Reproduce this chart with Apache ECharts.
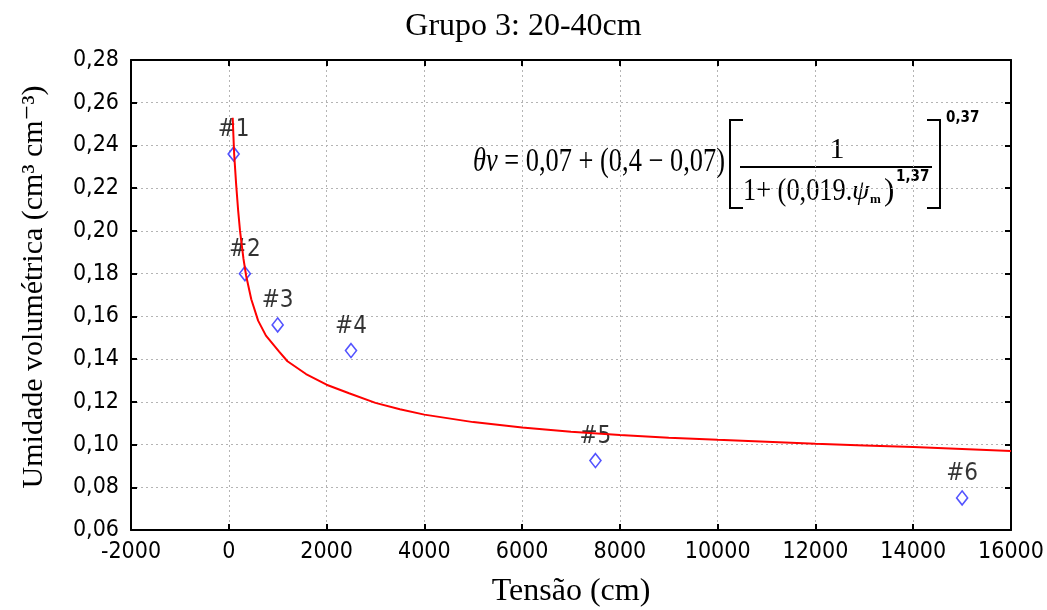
<!DOCTYPE html>
<html>
<head>
<meta charset="utf-8">
<script src="https://cdn.jsdelivr.net/npm/echarts@6/dist/echarts.min.js"></script>
<style>
html,body{margin:0;padding:0;background:#fff;}
#chart{width:1047px;height:610px;}
</style>
</head>
<body>
<div id="chart"></div>
<script>
// ---- data ----
const titleText = 'Grupo 3: 20-40cm';
const xName = 'Tensão (cm)';
const yName = 'Umidade volumétrica (cm³ cm⁻³)';
const xMin = -2000, xMax = 16000, xStep = 2000;
const yMin = 0.06, yMax = 0.28, yStep = 0.02;

const pointLabels  = ['#1', '#2', '#3', '#4', '#5', '#6'];
const pointTension = [100, 330, 1000, 2500, 7500, 15000];
const pointTheta   = [0.236, 0.180, 0.156, 0.144, 0.0925, 0.075];

const curveTension = [80, 110, 150, 190, 230, 300, 355, 460, 600, 760, 1030, 1200, 1580, 2000, 2460, 3000, 3500, 4000, 5000, 6000, 7000, 8000, 9000, 10000, 11000, 12000, 13000, 14000, 15000, 16000];
const curveTheta   = [0.253, 0.236, 0.222, 0.210, 0.200, 0.187, 0.179, 0.168, 0.158, 0.151, 0.1435, 0.139, 0.133, 0.128, 0.124, 0.1195, 0.1165, 0.114, 0.1105, 0.108, 0.106, 0.1045, 0.1032, 0.1022, 0.1013, 0.1004, 0.0996, 0.0988, 0.0979, 0.0970];

// ---- build ----
const narrow = "'Liberation Sans Narrow','DejaVu Sans Condensed','Liberation Sans',sans-serif";
const serif = "'Liberation Serif','DejaVu Serif',serif";
const scatterData = pointTension.map((x, i) => [x, pointTheta[i]]);
const curveData = curveTension.map((x, i) => [x, curveTheta[i]]);
const grid = {left: 131, right: 36, top: 60, bottom: 80, containLabel: false, outerBoundsMode: 'none'};
const splitLine = {show: true, lineStyle: {color: '#b4b4b4', type: [2, 3], width: 1}};
const axLine = {show: true, onZero: false, lineStyle: {color: '#000', width: 2}};
const tick = {show: true, inside: true, length: 6, lineStyle: {color: '#000', width: 2}};
const fmtY = v => v.toFixed(2).replace('.', ',');

const chart = echarts.init(document.getElementById('chart'));
chart.setOption({
  animation: false,
  backgroundColor: '#fff',
  title: {text: titleText, left: 'center', top: 6,
    textStyle: {fontFamily: serif, fontSize: 32, fontWeight: 'normal', color: '#000'}},
  grid: grid,
  xAxis: [{
    type: 'value', min: xMin, max: xMax, interval: xStep,
    name: xName, nameLocation: 'middle', nameGap: 46,
    nameTextStyle: {fontFamily: serif, fontSize: 32, color: '#000'},
    axisLine: axLine, axisTick: tick, splitLine: splitLine,
    axisLabel: {fontFamily: narrow, fontSize: 23, color: '#000', margin: 11, formatter: v => String(v)}
  }, {
    type: 'value', position: 'top', min: xMin, max: xMax, interval: xStep,
    axisLine: axLine, axisTick: tick, splitLine: {show: false}, axisLabel: {show: false}
  }],
  yAxis: [{
    type: 'value', min: yMin, max: yMax, interval: yStep,
    name: yName, nameLocation: 'middle', nameGap: 82, nameRotate: 90,
    nameTextStyle: {fontFamily: serif, fontSize: 30, color: '#000', padding: [0, 0, 0, 16]},
    axisLine: axLine, axisTick: tick, splitLine: splitLine,
    axisLabel: {fontFamily: narrow, fontSize: 23, color: '#000', margin: 12, formatter: fmtY}
  }, {
    type: 'value', position: 'right', min: yMin, max: yMax, interval: yStep,
    axisLine: axLine, axisTick: tick, splitLine: {show: false}, axisLabel: {show: false}
  }],
  series: [{
    type: 'scatter', data: scatterData, xAxisIndex: 0, yAxisIndex: 0,
    symbol: 'diamond', symbolSize: [11, 14],
    itemStyle: {color: 'rgba(255,255,255,0)', borderColor: '#2828ff', borderWidth: 1.6},
    label: {show: true, position: 'top', distance: 4, fontFamily: narrow, fontSize: 24, color: '#000',
      formatter: p => pointLabels[p.dataIndex]},
    z: 3
  }, {
    type: 'line', data: curveData, xAxisIndex: 0, yAxisIndex: 0,
    showSymbol: false, symbol: 'none', smooth: false,
    lineStyle: {color: '#ff0000', width: 2}, z: 4
  }],
  graphic: [
    {type: 'text', x: 473, y: 162, scaleX: 0.8,
      style: {text: '{i|θv} = 0,07 + (0,4 − 0,07)', font: '33px ' + serif, fill: '#000', align: 'left', verticalAlign: 'middle',
        rich: {i: {fontStyle: 'italic', fontSize: 33, fontFamily: serif, fill: '#000'}}}},
    {type: 'polyline', shape: {points: [[743, 120], [730, 120], [730, 208], [743, 208]]}, style: {stroke: '#000', lineWidth: 2, fill: null}},
    {type: 'polyline', shape: {points: [[927, 120], [940, 120], [940, 208], [927, 208]]}, style: {stroke: '#000', lineWidth: 2, fill: null}},
    {type: 'line', shape: {x1: 740, y1: 167, x2: 932, y2: 167}, style: {stroke: '#000', lineWidth: 2}},
    {type: 'text', x: 837, y: 150, style: {text: '1', font: '30px ' + serif, fill: '#000', align: 'center', verticalAlign: 'middle'}},
    {type: 'text', x: 743, y: 192, scaleX: 0.85,
      style: {text: '1+ (0,019.', font: '31px ' + serif, fill: '#000', align: 'left', verticalAlign: 'middle'}},
    {type: 'text', x: 852, y: 192, style: {text: 'ψ', font: 'italic 28px ' + serif, fill: '#000', align: 'left', verticalAlign: 'middle'}},
    {type: 'text', x: 870, y: 200, style: {text: 'm', font: 'bold 13px ' + serif, fill: '#000', align: 'left', verticalAlign: 'middle'}},
    {type: 'text', x: 884, y: 192, style: {text: ')', font: '31px ' + serif, fill: '#000', align: 'left', verticalAlign: 'middle'}},
    {type: 'text', x: 896, y: 177, style: {text: '1,37', font: 'bold 15px ' + narrow, fill: '#000', align: 'left', verticalAlign: 'middle'}},
    {type: 'text', x: 946, y: 118, style: {text: '0,37', font: 'bold 15px ' + narrow, fill: '#000', align: 'left', verticalAlign: 'middle'}}
  ]
});
</script>
</body>
</html>
